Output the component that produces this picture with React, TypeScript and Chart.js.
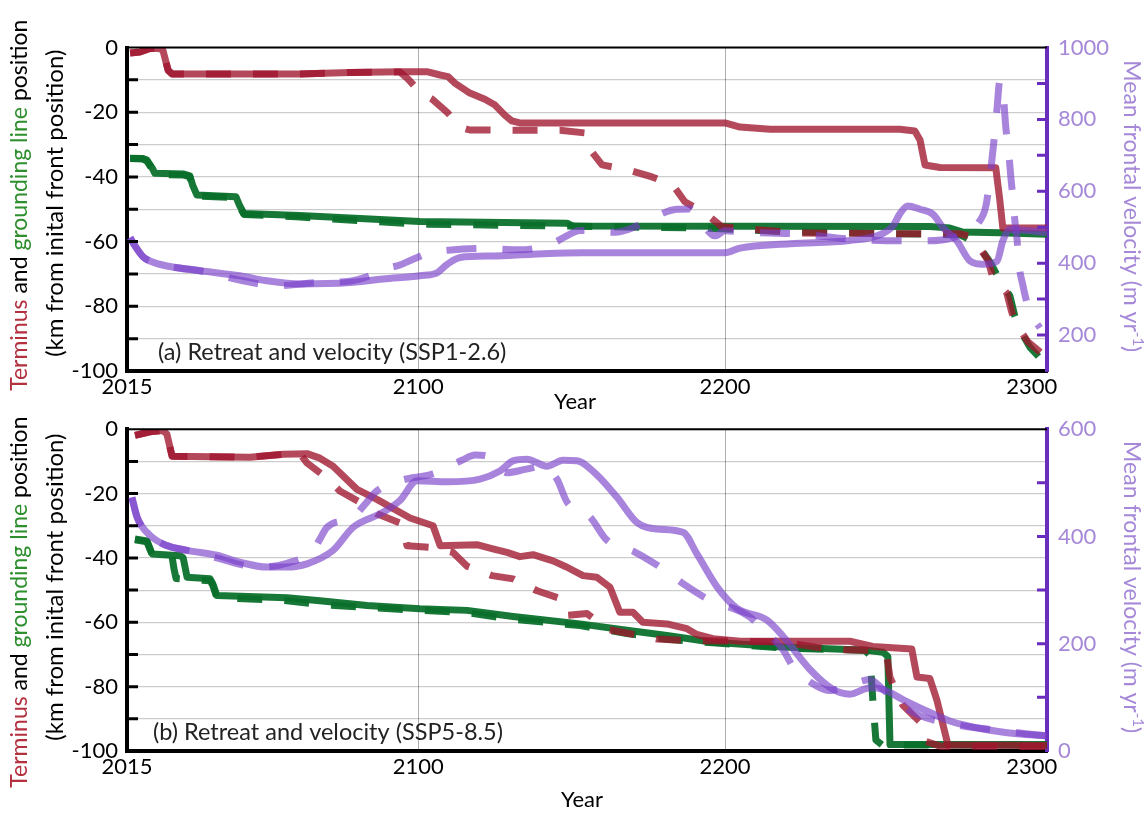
import { useEffect, useRef } from 'react';
import { Chart, registerables } from 'chart.js';

Chart.register(...registerables);

// ---------- shared axis settings ----------
const X_MIN = 2005;
const X_MAX = 2305;
const xTickValues = [2005, 2100, 2200, 2300];
const xTickLabels = ['2015', '2100', '2200', '2300'];
const xGridYears = [2100, 2200];

// ---------- (a) SSP1-2.6 ----------
const aYearsTermSolid = [2006.0, 2009.2, 2012.5, 2015.1, 2016.7, 2018.4, 2019.7, 2061.4, 2077.7, 2094.0, 2103.1, 2107.1, 2109.7, 2111.9, 2116.8, 2121.7, 2125.0, 2128.2, 2130.5, 2133.1, 2200.0, 2204.9, 2214.7, 2257.0, 2261.9, 2263.6, 2265.2, 2270.1, 2288.3, 2289.6, 2290.6, 2305.0];
const aTermSolid = [-1.7, -1.4, -0.3, -0.2, -0.8, -7.0, -8.2, -8.2, -7.7, -7.5, -7.5, -8.5, -9.0, -11.0, -14.1, -16.0, -17.8, -20.9, -22.7, -23.3, -23.3, -24.6, -25.3, -25.3, -25.8, -28.6, -36.3, -37.1, -37.2, -47.1, -55.8, -55.8];

const aYearsTermDashed = [2006.0, 2009.2, 2012.5, 2015.1, 2016.7, 2018.4, 2019.7, 2061.4, 2077.7, 2094.0, 2096.6, 2100.5, 2104.4, 2109.7, 2113.6, 2116.8, 2146.2, 2154.3, 2156.6, 2159.9, 2168.0, 2176.2, 2183.0, 2186.9, 2193.5, 2199.0, 2204.9, 2211.4, 2224.4, 2257.0, 2276.6, 2279.9, 2283.1, 2285.7, 2287.4, 2291.9, 2293.5, 2295.5, 2298.8, 2304.3];
const aTermDashed = [-1.7, -1.4, -0.3, -0.2, -0.8, -7.0, -8.2, -8.2, -7.7, -7.6, -9.7, -13.8, -15.9, -20.3, -24.6, -25.5, -25.6, -26.4, -32.3, -36.3, -37.7, -40.0, -42.5, -47.7, -51.2, -55.4, -55.9, -56.4, -57.3, -57.6, -57.6, -58.3, -62.0, -65.7, -71.2, -75.9, -81.8, -86.4, -91.0, -95.4];

const aYearsGlSolid = [2006.0, 2010.2, 2011.5, 2013.2, 2014.1, 2023.3, 2025.5, 2026.5, 2027.8, 2040.5, 2041.8, 2043.1, 2061.4, 2100.5, 2148.5, 2150.4, 2266.8, 2273.3, 2277.3, 2289.6, 2305.0];
const aGlSolid = [-34.2, -34.3, -34.8, -37.2, -38.9, -39.1, -39.7, -42.8, -45.6, -46.1, -49.0, -51.3, -51.9, -53.8, -54.3, -55.2, -55.3, -55.8, -57.0, -57.3, -57.7];

const aYearsGlDashed = [2006.0, 2010.2, 2011.5, 2013.2, 2014.1, 2023.3, 2025.5, 2026.5, 2027.8, 2040.5, 2041.8, 2043.1, 2061.4, 2100.5, 2148.5, 2191.8, 2204.9, 2224.4, 2276.6, 2281.5, 2284.1, 2286.4, 2289.6, 2292.9, 2294.5, 2296.2, 2299.4, 2302.7];
const aGlDashed = [-34.3, -34.5, -35.1, -37.6, -39.3, -39.4, -40.0, -43.1, -45.9, -46.4, -49.3, -51.6, -52.4, -54.6, -55.2, -55.8, -56.3, -57.0, -57.9, -60.1, -63.2, -66.3, -71.9, -76.8, -83.0, -87.3, -92.6, -96.0];

const aYearsVelSolid = [2006.0, 2007.6, 2010.2, 2012.5, 2018.0, 2028.8, 2041.8, 2050.6, 2061.4, 2077.7, 2088.5, 2100.5, 2106.1, 2109.3, 2113.6, 2124.3, 2137.4, 2153.7, 2200.0, 2204.9, 2221.2, 2240.7, 2250.5, 2254.8, 2257.0, 2259.6, 2263.6, 2267.8, 2271.1, 2275.6, 2279.9, 2284.1, 2288.7, 2290.6, 2292.9, 2305.0];
const aVelSolid = [471, 448, 418, 406, 392, 379, 365, 351, 342, 346, 356, 365, 373, 396, 416, 420, 425, 429, 429, 442, 454, 463, 479, 504, 537, 559, 550, 536, 499, 462, 406, 397, 406, 462, 494, 485];

const aYearsVelDashed = [2006.0, 2007.6, 2010.2, 2012.5, 2018.0, 2028.8, 2042.8, 2053.9, 2066.9, 2077.7, 2084.2, 2089.1, 2094.0, 2098.3, 2103.8, 2109.7, 2120.7, 2133.1, 2143.6, 2147.8, 2152.7, 2164.1, 2170.6, 2174.5, 2184.3, 2188.6, 2191.2, 2196.7, 2200.0, 2206.5, 2224.4, 2240.7, 2264.5, 2274.3, 2283.1, 2285.1, 2286.4, 2287.7, 2288.7, 2289.6, 2290.6, 2291.6, 2292.6, 2293.2, 2293.9, 2294.5, 2295.2, 2295.8, 2297.1, 2298.8, 2300.7, 2302.7];
const aVelDashed = [471, 448, 418, 406, 392, 379, 351, 337, 346, 350, 365, 384, 395, 411, 429, 436, 441, 437, 454, 473, 491, 486, 501, 518, 550, 551, 527, 476, 490, 486, 481, 467, 462, 471, 518, 560, 640, 740, 830, 906, 880, 775, 700, 640, 580, 520, 470, 400, 340, 280, 245, 220];

// ---------- (b) SSP5-8.5 ----------
const bYearsTermSolid = [2007.6, 2012.5, 2016.7, 2018.0, 2019.7, 2045.1, 2055.9, 2063.7, 2067.9, 2072.2, 2080.0, 2086.5, 2097.3, 2104.8, 2107.1, 2119.1, 2124.3, 2128.9, 2133.1, 2137.4, 2143.9, 2148.5, 2153.7, 2158.2, 2162.5, 2165.7, 2170.0, 2173.2, 2181.1, 2187.6, 2190.8, 2196.1, 2204.9, 2218.9, 2240.7, 2248.2, 2260.9, 2262.6, 2266.8, 2269.1, 2272.7, 2305.0];
const bTermSolid = [-1.9, -0.8, -0.4, -1.5, -8.4, -8.7, -7.8, -7.6, -9.0, -11.5, -18.7, -21.8, -27.6, -30.0, -36.2, -35.9, -37.2, -38.3, -39.6, -39.0, -40.9, -42.9, -45.5, -46.0, -49.1, -56.9, -56.9, -60.0, -60.5, -62.0, -63.8, -65.1, -65.9, -65.9, -65.9, -67.5, -68.3, -77.0, -77.5, -84.2, -98.1, -98.3];

const bYearsTermDashed = [2007.6, 2012.5, 2016.7, 2018.0, 2019.7, 2045.1, 2055.9, 2061.4, 2063.7, 2070.2, 2074.4, 2081.9, 2086.5, 2094.7, 2096.3, 2103.8, 2111.3, 2115.9, 2124.0, 2130.9, 2138.7, 2146.8, 2148.8, 2155.0, 2161.8, 2169.7, 2177.8, 2186.0, 2203.9, 2218.9, 2230.0, 2237.5, 2247.3, 2252.8, 2253.8, 2255.4, 2258.0, 2263.6, 2265.2, 2270.1, 2305.0];
const bTermDashed = [-1.9, -0.8, -0.4, -1.5, -8.4, -8.7, -7.8, -7.7, -10.5, -15.2, -19.2, -23.2, -26.3, -29.4, -36.2, -36.7, -38.3, -42.6, -45.5, -46.5, -50.2, -52.8, -57.8, -57.3, -62.2, -63.7, -65.2, -65.6, -65.9, -66.1, -67.8, -68.5, -68.7, -70.9, -77.1, -80.5, -85.8, -91.0, -96.9, -98.5, -98.6];

const bYearsGlSolid = [2007.6, 2011.5, 2013.2, 2022.3, 2023.3, 2024.6, 2032.1, 2033.0, 2034.3, 2057.2, 2067.9, 2083.3, 2100.5, 2115.9, 2130.9, 2152.7, 2168.0, 2181.1, 2196.1, 2218.9, 2246.3, 2251.5, 2253.1, 2253.8, 2305.0];
const bGlSolid = [-34.1, -34.7, -38.8, -39.3, -39.9, -46.0, -46.5, -48.1, -51.7, -52.4, -53.3, -54.8, -55.8, -56.3, -58.2, -60.5, -62.5, -64.1, -66.2, -67.7, -68.7, -69.3, -70.6, -98.0, -98.0];

const bYearsGlDashed = [2007.6, 2011.5, 2013.2, 2019.7, 2020.3, 2021.0, 2024.6, 2032.1, 2033.0, 2034.3, 2057.2, 2067.9, 2083.3, 2100.5, 2115.9, 2130.9, 2152.7, 2168.0, 2181.1, 2196.1, 2218.9, 2245.6, 2247.3, 2248.2, 2249.2, 2251.2, 2305.0];
const bGlDashed = [-34.4, -35.0, -39.0, -39.6, -43.3, -46.4, -46.7, -47.1, -48.6, -52.3, -53.3, -54.5, -55.4, -56.3, -57.0, -59.1, -61.0, -63.5, -65.3, -66.4, -68.0, -68.7, -70.3, -84.2, -96.6, -98.1, -98.1];

const bYearsVelSolid = [2006.6, 2008.3, 2012.5, 2018.0, 2024.6, 2034.3, 2041.8, 2050.6, 2057.2, 2063.7, 2072.2, 2078.7, 2088.5, 2094.0, 2099.6, 2109.3, 2120.1, 2126.6, 2130.9, 2135.4, 2141.9, 2147.2, 2151.7, 2158.2, 2164.8, 2171.3, 2177.8, 2186.3, 2190.8, 2197.4, 2203.9, 2213.7, 2218.9, 2227.7, 2235.2, 2240.7, 2247.3, 2251.5, 2258.0, 2264.5, 2273.3, 2284.1, 2295.2, 2305.0];
const bVelSolid = [473, 436, 402, 383, 374, 365, 352, 343, 343, 349, 374, 417, 445, 467, 504, 502, 507, 522, 541, 544, 531, 542, 541, 515, 473, 426, 414, 408, 368, 306, 266, 244, 214, 152, 115, 106, 118, 115, 96, 78, 56, 41, 32, 28];

const bYearsVelDashed = [2006.6, 2008.3, 2012.5, 2018.0, 2024.6, 2034.3, 2041.8, 2048.4, 2057.2, 2065.6, 2067.9, 2070.2, 2078.7, 2082.6, 2086.5, 2094.0, 2104.8, 2114.2, 2118.5, 2122.4, 2128.9, 2134.8, 2140.6, 2145.2, 2148.5, 2156.0, 2161.5, 2170.6, 2178.8, 2186.3, 2195.1, 2203.9, 2208.1, 2212.4, 2218.9, 2222.1, 2230.0, 2234.2, 2238.5, 2247.3, 2251.5, 2256.1, 2263.6, 2274.3, 2286.4, 2305.0];
const bVelDashed = [473, 436, 402, 383, 374, 360, 348, 343, 350, 374, 395, 417, 436, 460, 485, 504, 517, 542, 552, 550, 519, 525, 531, 507, 464, 436, 393, 371, 343, 312, 281, 263, 250, 226, 189, 158, 121, 113, 118, 133, 115, 91, 66, 50, 40, 28];

// ---------- styling ----------
const FONT = 'Lato, "Open Sans", sans-serif';
const RED = 'rgba(160, 22, 46, 0.78)';
const GREEN = 'rgba(10, 112, 42, 0.94)';
const PURPLE = 'rgba(120, 62, 202, 0.64)';
const AXIS_PURPLE = '#6a2dbe';
const LABEL_PURPLE = '#a588d8';
const TITLE_RED = '#b3303f';
const TITLE_GREEN = '#2f8f2f';

const WIDTH = 1147;

type Part = { text: string; color: string; size?: number; dy?: number };

function drawParts(ctx: CanvasRenderingContext2D, parts: Part[], cx: number, cy: number, angle: number, baseSize: number) {
  ctx.save();
  ctx.translate(cx, cy);
  ctx.rotate(angle);
  ctx.textBaseline = 'middle';
  ctx.textAlign = 'left';
  const widths = parts.map((p) => {
    ctx.font = `${p.size ?? baseSize}px ${FONT}`;
    return ctx.measureText(p.text).width;
  });
  const total = widths.reduce((s, w) => s + w, 0);
  let x = -total / 2;
  parts.forEach((p, i) => {
    ctx.font = `${p.size ?? baseSize}px ${FONT}`;
    ctx.fillStyle = p.color;
    ctx.fillText(p.text, x, p.dy ?? 0);
    x += widths[i];
  });
  ctx.restore();
}

// Frame, inward tick marks, axis titles and panel caption
const panelDecor = {
  id: 'panelDecor',
  afterDraw(chart: any, _args: any, opts: any) {
    const { ctx, chartArea: a } = chart;
    const y = chart.scales.y;
    const y1 = chart.scales.y1;
    ctx.save();

    ctx.strokeStyle = '#000';
    ctx.lineWidth = 2;
    ctx.beginPath();
    ctx.moveTo(a.left, a.top);
    ctx.lineTo(a.right, a.top);
    ctx.stroke();

    ctx.lineWidth = 3;
    ctx.beginPath();
    y.ticks.forEach((t: any) => {
      if (t.value <= y.min || t.value >= y.max) return;
      const py = y.getPixelForValue(t.value);
      ctx.moveTo(a.left, py);
      ctx.lineTo(a.left + 11, py);
    });
    ctx.stroke();

    ctx.strokeStyle = AXIS_PURPLE;
    ctx.beginPath();
    y1.ticks.forEach((t: any) => {
      if (t.value <= y1.min || t.value >= y1.max) return;
      const py = y1.getPixelForValue(t.value);
      ctx.moveTo(a.right - 10, py);
      ctx.lineTo(a.right, py);
    });
    ctx.stroke();

    const midY = (a.top + a.bottom) / 2;
    drawParts(ctx, [
      { text: 'Terminus', color: TITLE_RED },
      { text: ' and ', color: '#000' },
      { text: 'grounding line', color: TITLE_GREEN },
      { text: ' position', color: '#000' },
    ], 20, midY + opts.title1Dy, -Math.PI / 2, 23);
    drawParts(ctx, [{ text: '(km from inital front position)', color: '#000' }], 55, midY + opts.title2Dy, -Math.PI / 2, 24);

    drawParts(ctx, [
      { text: 'Mean frontal velocity (m yr', color: LABEL_PURPLE },
      { text: '-1', color: LABEL_PURPLE, size: 15, dy: -7 },
      { text: ')', color: LABEL_PURPLE },
    ], 1131, midY - 3, Math.PI / 2, 23);

    ctx.fillStyle = '#000';
    ctx.font = `22px ${FONT}`;
    ctx.textAlign = 'center';
    ctx.textBaseline = 'middle';
    ctx.fillText('Year', opts.yearX, a.bottom + opts.yearDy);

    ctx.fillStyle = '#222';
    ctx.font = `${opts.captionSize}px ${FONT}`;
    ctx.textAlign = 'left';
    ctx.fillText(opts.caption, a.left + opts.captionDx, a.bottom - 19);

    ctx.restore();
  },
};

type Series = { years: number[]; values: number[] };

type Panel = {
  caption: string;
  captionSize: number;
  captionDx: number;
  yearX: number;
  yearDy: number;
  title1Dy: number;
  title2Dy: number;
  vMin: number;
  vMax: number;
  plotTop: number;
  plotBottom: number;
  height: number;
  velSolid: Series;
  velDashed: Series;
  termSolid: Series;
  termDashed: Series;
  glSolid: Series;
  glDashed: Series;
};

const toPoints = (s: Series) => s.years.map((x, i) => ({ x, y: s.values[i] }));

function line(label: string, s: Series, color: string, axis: string, dash: number[], smooth: boolean) {
  return {
    label,
    data: toPoints(s),
    yAxisID: axis,
    borderColor: color,
    borderWidth: 7,
    borderDash: dash,
    borderCapStyle: 'butt',
    borderJoinStyle: 'round',
    pointRadius: 0,
    fill: false,
    tension: 0,
    cubicInterpolationMode: smooth ? 'monotone' : 'default',
  };
}

function buildConfig(p: Panel): any {
  const tickFont = { family: FONT, size: 22 };
  return {
    type: 'line',
    data: {
      datasets: [
        line('Velocity', p.velSolid, PURPLE, 'y1', [], true),
        line('Velocity (dashed)', p.velDashed, PURPLE, 'y1', [30, 26], true),
        line('Terminus', p.termSolid, RED, 'y', [], false),
        line('Terminus (dashed)', p.termDashed, RED, 'y', [25, 22], false),
        line('Grounding line', p.glSolid, GREEN, 'y', [], false),
        line('Grounding line (dashed)', p.glDashed, GREEN, 'y', [25, 22], false),
      ],
    },
    options: {
      responsive: false,
      animation: false,
      devicePixelRatio: 1,
      layout: { padding: { top: p.plotTop, left: 0, right: 0, bottom: 0 } },
      plugins: {
        legend: { display: false },
        tooltip: { enabled: false },
        panelDecor: {
          caption: p.caption,
          captionSize: p.captionSize,
          captionDx: p.captionDx,
          yearX: p.yearX,
          yearDy: p.yearDy,
          title1Dy: p.title1Dy,
          title2Dy: p.title2Dy,
        },
      },
      scales: {
        x: {
          type: 'linear',
          min: X_MIN,
          max: X_MAX,
          afterBuildTicks: (s: any) => {
            s.ticks = xTickValues.map((v) => ({ value: v }));
          },
          afterFit: (s: any) => {
            s.height = p.height - p.plotBottom;
          },
          ticks: {
            autoSkip: false,
            maxRotation: 0,
            padding: 3,
            color: '#000',
            font: tickFont,
            callback: (v: number) => xTickLabels[xTickValues.indexOf(v)] ?? '',
          },
          grid: {
            drawTicks: false,
            lineWidth: 1,
            color: (c: any) => (c.tick && xGridYears.includes(c.tick.value) ? 'rgba(0,0,0,0.32)' : 'rgba(0,0,0,0)'),
          },
          border: { color: '#000', width: 4 },
        },
        y: {
          position: 'left',
          min: -100,
          max: 0,
          afterFit: (s: any) => {
            s.width = 127;
          },
          ticks: {
            stepSize: 10,
            autoSkip: false,
            padding: 9,
            color: '#000',
            font: tickFont,
            callback: (v: number) => (v % 20 === 0 ? String(v) : ''),
          },
          grid: { drawTicks: false, color: 'rgba(0,0,0,0.2)', lineWidth: 1.2 },
          border: { color: '#000', width: 4 },
        },
        y1: {
          position: 'right',
          min: p.vMin,
          max: p.vMax,
          afterFit: (s: any) => {
            s.width = WIDTH - 1047;
          },
          ticks: {
            stepSize: 100,
            autoSkip: false,
            padding: 11,
            color: LABEL_PURPLE,
            font: tickFont,
            callback: (v: number) => (v % 200 === 0 ? String(v) : ''),
          },
          grid: { display: false, drawTicks: false },
          border: { color: AXIS_PURPLE, width: 4 },
        },
      },
    },
    plugins: [panelDecor],
  };
}

const panelA: Panel = {
  caption: '(a) Retreat and velocity (SSP1-2.6)',
  captionSize: 23.5,
  captionDx: 31,
  yearX: 575,
  yearDy: 31,
  title1Dy: -4,
  title2Dy: -6,
  vMin: 100,
  vMax: 1000,
  plotTop: 47.5,
  plotBottom: 371,
  height: 420,
  velSolid: { years: aYearsVelSolid, values: aVelSolid },
  velDashed: { years: aYearsVelDashed, values: aVelDashed },
  termSolid: { years: aYearsTermSolid, values: aTermSolid },
  termDashed: { years: aYearsTermDashed, values: aTermDashed },
  glSolid: { years: aYearsGlSolid, values: aGlSolid },
  glDashed: { years: aYearsGlDashed, values: aGlDashed },
};

const panelB: Panel = {
  caption: '(b) Retreat and velocity (SSP5-8.5)',
  captionSize: 23.5,
  captionDx: 26,
  yearX: 582,
  yearDy: 49,
  title1Dy: 12,
  title2Dy: -3,
  vMin: 0,
  vMax: 600,
  plotTop: 23,
  plotBottom: 346,
  height: 408,
  velSolid: { years: bYearsVelSolid, values: bVelSolid },
  velDashed: { years: bYearsVelDashed, values: bVelDashed },
  termSolid: { years: bYearsTermSolid, values: bTermSolid },
  termDashed: { years: bYearsTermDashed, values: bTermDashed },
  glSolid: { years: bYearsGlSolid, values: bGlSolid },
  glDashed: { years: bYearsGlDashed, values: bGlDashed },
};

function PanelChart({ panel, top }: { panel: Panel; top: number }) {
  const ref = useRef<HTMLCanvasElement>(null);
  useEffect(() => {
    if (!ref.current) return;
    const chart = new Chart(ref.current, buildConfig(panel));
    return () => chart.destroy();
  }, [panel]);
  return (
    <canvas
      ref={ref}
      width={WIDTH}
      height={panel.height}
      style={{ position: 'absolute', left: 0, top, width: WIDTH, height: panel.height }}
    />
  );
}

export default function App() {
  return (
    <div style={{ position: 'absolute', left: 0, top: 0, width: WIDTH, height: 813, background: '#fff' }}>
      <PanelChart panel={panelA} top={0} />
      <PanelChart panel={panelB} top={405} />
    </div>
  );
}
